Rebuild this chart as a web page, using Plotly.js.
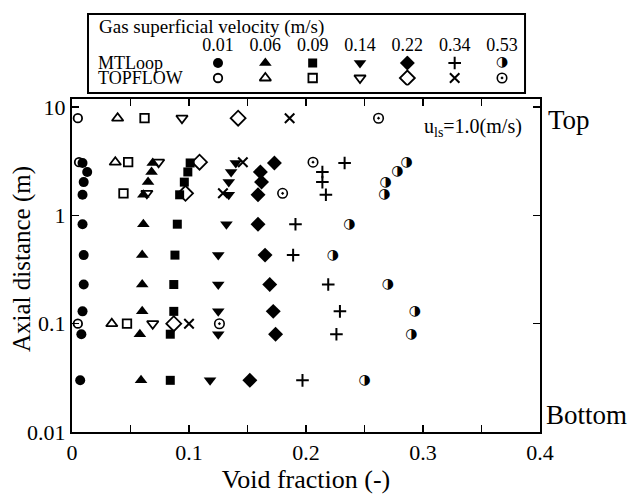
<!DOCTYPE html>
<html><head><meta charset="utf-8">
<script src="https://cdn.plot.ly/plotly-3.0.1.min.js"></script>
<style>html,body{margin:0;padding:0;background:#fff}#plot{width:628px;height:496px}</style>
</head><body><div id="plot"></div>
<script>
// ---- data ----
const velocities = ['0.01','0.06','0.09','0.14','0.22','0.34','0.53'];
const facilities = ['MTLoop','TOPFLOW'];
const legendTitle = 'Gas superficial velocity (m/s)';
const condition = 'u<sub>ls</sub>=1.0(m/s)';

const mtHeight = [3.05, 2.52, 2.03, 1.55, 0.83, 0.43, 0.23, 0.13, 0.08, 0.03];
const mt001 = [0.009, 0.013, 0.010, 0.009, 0.009, 0.010, 0.010, 0.009, 0.008, 0.007];
const mt006 = [0.069, 0.068, 0.065, 0.061, 0.061, 0.060, 0.060, 0.060, 0.058, 0.059];
const mt009 = [0.101, 0.099, 0.096, 0.092, 0.090, 0.088, 0.087, 0.087, 0.084, 0.084];
const mt014 = [0.140, 0.136, 0.134, 0.134, 0.132, 0.125, 0.125, 0.125, 0.125, 0.118];
const mt022 = [0.173, 0.161, 0.162, 0.159, 0.159, 0.165, 0.169, 0.172, 0.174, 0.152];
const mt034 = [0.233, 0.214, 0.214, 0.217, 0.191, 0.189, 0.219, 0.229, 0.226, 0.197];
const mt053 = [0.286, 0.278, 0.268, 0.267, 0.237, 0.223, 0.270, 0.293, 0.290, 0.250];

const tfHeight = [7.9, 3.1, 1.6, 0.1];
const tf001 = [0.005, 0.006, null, 0.005];
const tf006 = [0.039, 0.037, null, 0.034];
const tf009 = [0.062, 0.048, 0.044, 0.047];
const tf014 = [0.094, 0.074, 0.064, 0.069];
const tf022 = [0.142, 0.109, 0.097, 0.087];
const tf034 = [0.186, 0.146, 0.129, 0.100];
const tf053 = [0.262, 0.206, 0.180, 0.126];

const yTickVals = [0.01, 0.1, 1, 10];
const yTickText = ['0.01', '0.1', '1', '10'];
const xTitle = 'Void fraction (-)';
const yTitle = 'Axial distance (m)';
const topLabel = 'Top';
const bottomLabel = 'Bottom';

// ---- styles ----
const K = '#000';
const SERIF = 'Liberation Serif, Times New Roman, serif';
const mtStyles = [
  {symbol:'circle', size:10},
  {symbol:'triangle-up', size:11},
  {symbol:'square', size:9},
  {symbol:'triangle-down', size:11},
  {symbol:'diamond', size:11.5},
  {symbol:'cross-thin-open', size:9, line:{width:2,color:K}},
  null // half-filled circle drawn as glyph
];
const tfStyles = [
  {symbol:'circle-open', size:8.5, line:{width:1.8,color:K}},
  {symbol:'triangle-up-open', size:10, line:{width:1.8,color:K}},
  {symbol:'square-open', size:8.5, line:{width:1.8,color:K}},
  {symbol:'triangle-down-open', size:10, line:{width:1.8,color:K}},
  {symbol:'diamond-open', size:11.5, line:{width:1.8,color:K}},
  {symbol:'x-thin-open', size:9.5, line:{width:2,color:K}},
  {symbol:'circle-open-dot', size:9.5, line:{width:1.6,color:K}}
];
const mtX = [mt001, mt006, mt009, mt014, mt022, mt034, mt053];
const tfX = [tf001, tf006, tf009, tf014, tf022, tf034, tf053];
const HALF = '\u25D1';
const halfFont = {family:'DejaVu Sans', size:14, color:K};

const traces = [];
function mk(style){ return Object.assign({color:K}, style); }
for (let i = 0; i < 7; i++) {
  if (mtStyles[i]) {
    traces.push({type:'scatter', mode:'markers', x:mtX[i], y:mtHeight, marker:mk(mtStyles[i]), showlegend:false, hoverinfo:'skip', cliponaxis:false});
  } else {
    traces.push({type:'scatter', mode:'text', x:mtX[i], y:mtHeight, text:mtX[i].map(()=>HALF), textposition:'middle center', textfont:halfFont, showlegend:false, hoverinfo:'skip', cliponaxis:false});
  }
  traces.push({type:'scatter', mode:'markers', x:tfX[i], y:tfHeight, marker:mk(tfStyles[i]), showlegend:false, hoverinfo:'skip', cliponaxis:false});
  if (mtStyles[i]) {
    traces.push({type:'scatter', mode:'markers', x:[velocities[i]], y:[facilities[0]], xaxis:'x2', yaxis:'y2', marker:mk(mtStyles[i]), showlegend:false, hoverinfo:'skip'});
  } else {
    traces.push({type:'scatter', mode:'text', x:[velocities[i]], y:[facilities[0]], xaxis:'x2', yaxis:'y2', text:[HALF], textposition:'middle center', textfont:halfFont, showlegend:false, hoverinfo:'skip'});
  }
  traces.push({type:'scatter', mode:'markers', x:[velocities[i]], y:[facilities[1]], xaxis:'x2', yaxis:'y2', marker:mk(tfStyles[i]), showlegend:false, hoverinfo:'skip'});
}

const layout = {
  width:628, height:496,
  margin:{l:72, r:88, t:10, b:64},
  paper_bgcolor:'#fff', plot_bgcolor:'rgba(0,0,0,0)',
  font:{family:SERIF, color:K, size:20},
  showlegend:false,
  xaxis:{
    range:[0, 0.4], dtick:0.1, tick0:0, tickformat:'.1~f',
    showline:true, linecolor:K, linewidth:2, mirror:'ticks',
    ticks:'inside', ticklen:7, tickwidth:1.5, tickcolor:K,
    minor:{dtick:0.05, tick0:0, ticks:'inside', ticklen:7, tickwidth:1.5, tickcolor:K, showgrid:false},
    showgrid:false, zeroline:false,
    tickfont:{family:SERIF, size:22, color:K},
    title:{text:xTitle, font:{family:SERIF, size:26, color:K}, standoff:3},
    anchor:'y'
  },
  yaxis:{
    type:'log', range:[-2, 1.075], domain:[0, 0.7891],
    tickvals:yTickVals, ticktext:yTickText,
    showline:true, linecolor:K, linewidth:2, mirror:'ticks',
    ticks:'inside', ticklen:7, tickwidth:1.5, tickcolor:K,
    showgrid:false, zeroline:false,
    tickfont:{family:SERIF, size:22, color:K},
    anchor:'x'
  },
  xaxis2:{
    type:'category', categoryarray:velocities, categoryorder:'array',
    range:[-0.5, 6.5], domain:[0.2614, 0.9694], anchor:'y2', side:'top',
    showline:false, showgrid:false, zeroline:false, ticks:'', ticklen:0,
    tickfont:{family:SERIF, size:18, color:K}
  },
  yaxis2:{
    type:'category', categoryarray:[facilities[1], facilities[0]], categoryorder:'array',
    range:[-0.5, 1.5], domain:[0.8211, 0.8922], anchor:'x2',
    showline:false, showgrid:false, zeroline:false, ticks:'', showticklabels:false
  },
  shapes:[
    {type:'rect', xref:'paper', yref:'paper', x0:0.0342, x1:0.968, y0:0.8033, y1:0.9905, line:{color:K, width:2}, fillcolor:'rgba(0,0,0,0)'}
  ],
  annotations:[
    {text:yTitle, xref:'paper', yref:'paper', x:-0.1068, y:0.41, xanchor:'center', yanchor:'middle', textangle:-90, showarrow:false, font:{family:SERIF, size:25, color:K}},
    {text:legendTitle, xref:'paper', yref:'paper', x:0.0534, y:0.9597, xanchor:'left', yanchor:'middle', showarrow:false, font:{family:SERIF, size:19, color:K}},
    {text:facilities[0], xref:'paper', yref:'y2', x:0.0513, y:facilities[0], xanchor:'left', yanchor:'middle', showarrow:false, font:{family:SERIF, size:18, color:K}},
    {text:facilities[1], xref:'paper', yref:'y2', x:0.0513, y:facilities[1], xanchor:'left', yanchor:'middle', showarrow:false, font:{family:SERIF, size:18, color:K}},
    {text:condition, xref:'paper', yref:'paper', x:0.9658, y:0.7227, xanchor:'right', yanchor:'middle', showarrow:false, font:{family:SERIF, size:20, color:K}},
    {text:topLabel, xref:'paper', yref:'paper', x:1.013, y:0.739, xanchor:'left', yanchor:'middle', showarrow:false, font:{family:SERIF, size:27, color:K}},
    {text:bottomLabel, xref:'paper', yref:'paper', x:1.008, y:0.0403, xanchor:'left', yanchor:'middle', showarrow:false, font:{family:SERIF, size:27, color:K}}
  ]
};

Plotly.newPlot('plot', traces, layout, {staticPlot:true, displayModeBar:false});
</script>
</body></html>
